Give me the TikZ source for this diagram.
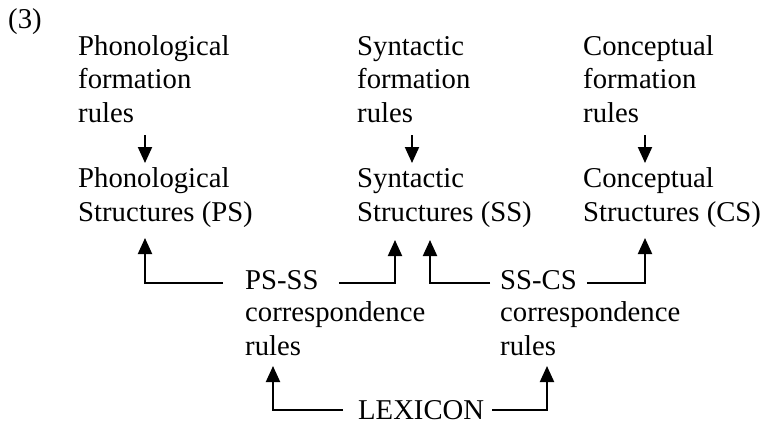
\documentclass[tikz,border=0pt]{standalone}
\usepackage{fontspec}
\setmainfont{Liberation Serif}
\usetikzlibrary{arrows.meta,calc}
\newcommand{\ArchFont}{\fontsize{28.7}{33.2}\selectfont}
\tikzset{
	archtext/.style={inner sep=0pt, anchor=base west, align=left, font=\ArchFont},
	archarrow/.style={-{Triangle[length=16pt,width=14pt]}, line width=2pt},
}

\begin{document}
\begin{tikzpicture}[x=1pt, y=-1pt]
		\useasboundingbox (0,0) rectangle (763,424);
		\node[archtext] (num) at (8,28) {(3)};
		\node[archtext] (phf) at (78,122) {Phonological\\formation\\rules};
		\node[archtext] (syf) at (357,122) {Syntactic\\formation\\rules};
		\node[archtext] (cof) at (583,122) {Conceptual\\formation\\rules};
		\node[archtext] (phs) at (78,221) {Phonological\\Structures (PS)};
		\node[archtext] (sys) at (357,221) {Syntactic\\Structures (SS)};
		\node[archtext] (cos) at (583,221) {Conceptual\\Structures (CS)};
		\node[archtext] (pss) at (245,289) {PS-SS};
		\node[archtext] (psr) at (245,355) {correspondence\\rules};
		\node[archtext] (scs) at (500,289) {SS-CS};
		\node[archtext] (scr) at (500,355) {correspondence\\rules};
		\node[archtext] (lex) at (358,419) {LEXICON};
		\draw[archarrow] ($(phf.base west)+(67,13)$) -- ($(phs.base west)+(67,-58)$);
		\draw[archarrow] ($(syf.base west)+(55,13)$) -- ($(sys.base west)+(55,-58)$);
		\draw[archarrow] ($(cof.base west)+(62,13)$) -- ($(cos.base west)+(62,-58)$);
		\draw[archarrow] ($(pss.base west)+(-22,-6)$) -| ($(phs.base west)+(67,17)$);
		\draw[archarrow] ($(pss.base east)+(20,-6)$) -| ($(sys.base west)+(38,19)$);
		\draw[archarrow] ($(scs.base west)+(-10,-6)$) -| ($(sys.base west)+(73,19)$);
		\draw[archarrow] ($(scs.base east)+(10,-6)$) -| ($(cos.base west)+(62,17)$);
		\draw[archarrow] ($(lex.base west)+(-15,-9)$) -| ($(psr.base west)+(28,11)$);
		\draw[archarrow] ($(lex.base east)+(8,-9)$) -| ($(scr.base west)+(47,11)$);
\end{tikzpicture}
\end{document}
